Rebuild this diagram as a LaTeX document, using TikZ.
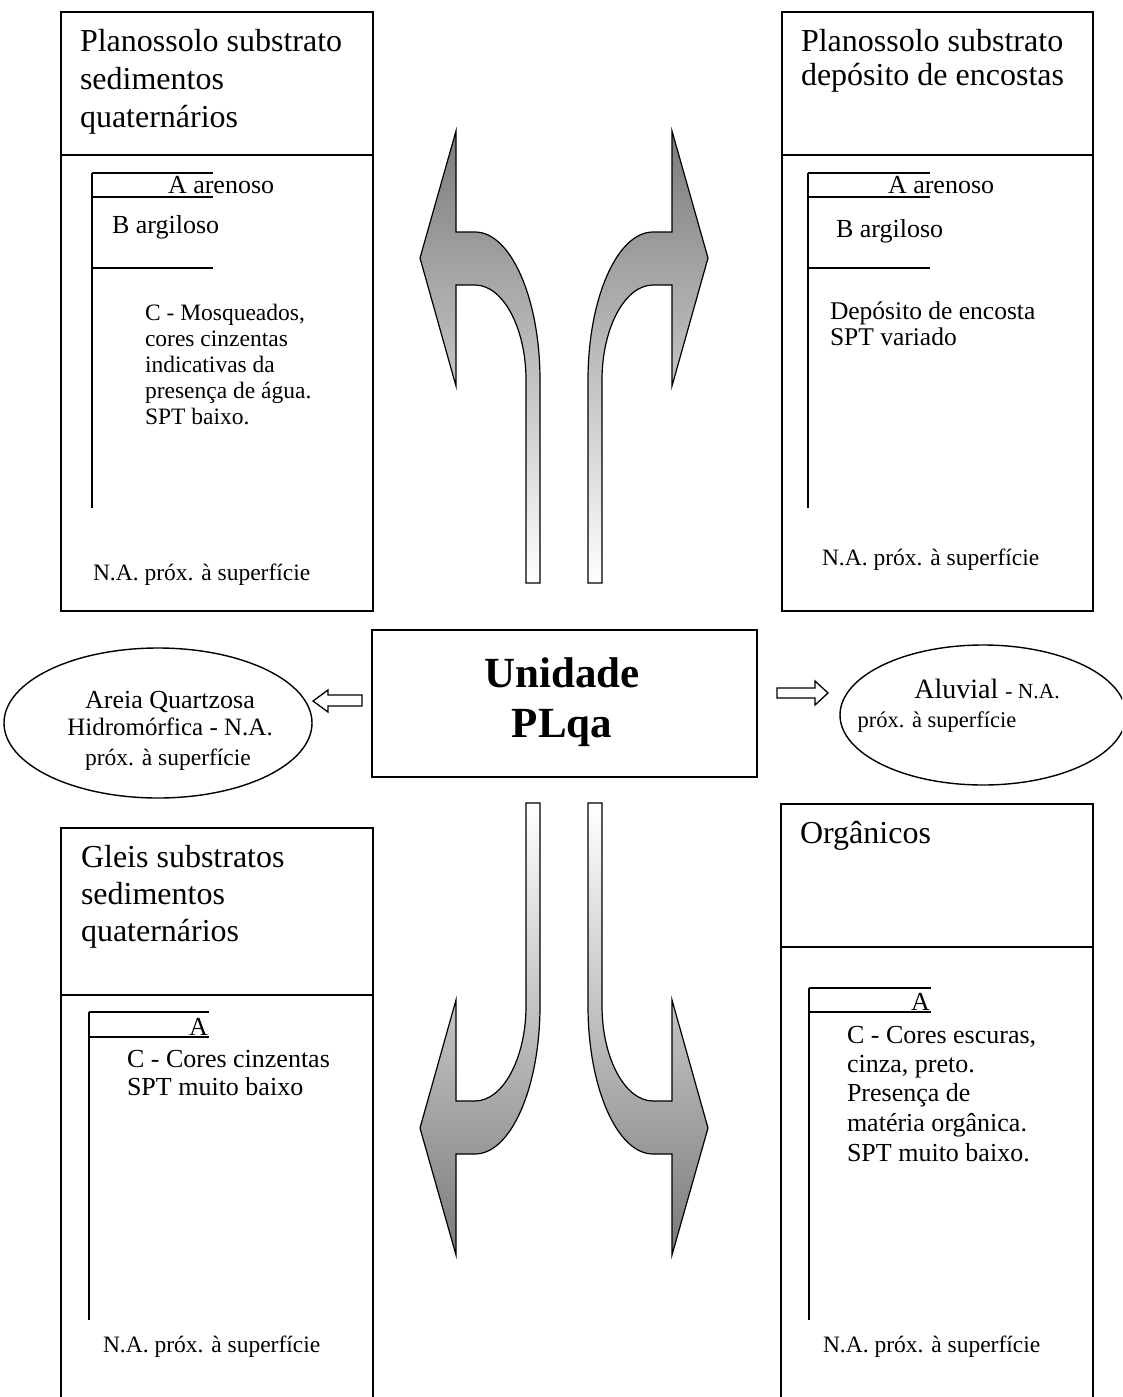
\documentclass[tikz,border=0pt]{standalone}
\usepackage{fontspec}
\setmainfont{Liberation Serif}
\usetikzlibrary{shapes.geometric}
\begin{document}
\begin{tikzpicture}[x=1pt,y=-1pt,
  panel/.style={draw,line width=1.8pt,anchor=north west,inner sep=0pt},
  layer/.style={line width=1.6pt},
  txt/.style={anchor=base west,inner sep=0pt,outer sep=0pt},
  hdr/.style={txt,font=\fontsize{32}{38}\selectfont},
  big/.style={txt,font=\fontsize{26}{30}\selectfont},
  small/.style={txt,font=\fontsize{23.5}{26}\selectfont},
  oval/.style={draw,ellipse,line width=1.4pt,inner sep=0pt},
  bigarrow/.style={draw=black,line width=1.2pt},
  hollow/.style={draw=black,fill=white,line width=1.3pt}]
\useasboundingbox (0,0) rectangle (1122,1397);
\clip (0,0) rectangle (1122,1397);

% ---------- top left panel ----------
\node[panel,minimum width=312pt,minimum height=599pt] (tl) at (60,11) {};
\draw[line width=1.8pt] (60,155) -- (372,155);
\node[hdr] (tl1) at (80,52) {Planossolo substrato};
\node[hdr] (tl2) at (80,89) {sedimentos};
\node[hdr] (tl3) at (80,127) {quaternários};
\draw[layer] (92,173) -- (92,508);
\draw[layer] (92,173) -- (213,173);
\draw[layer] (92,197) -- (213,197);
\draw[layer] (92,268) -- (213,268);
\node[big] (tla) at (168,193) {A arenoso};
\node[big] (tlb) at (112,233) {B argiloso};
\node[small] (tlc1) at (145,320) {C - Mosqueados,};
\node[small] (tlc2) at (145,346) {cores cinzentas};
\node[small] (tlc3) at (145,372) {indicativas da};
\node[small] (tlc4) at (145,398) {presença de água.};
\node[small] (tlc5) at (145,424) {SPT baixo.};
\node[small] (tln) at (93,580) {N.A. próx. à superfície};

% ---------- top right panel ----------
\node[panel,minimum width=311pt,minimum height=599pt] (tr) at (781,11) {};
\draw[line width=1.8pt] (781,155) -- (1092,155);
\node[hdr] (tr1) at (801,52) {Planossolo substrato};
\node[hdr] (tr2) at (801,85) {depósito de encostas};
\draw[layer] (808,173) -- (808,508);
\draw[layer] (808,173) -- (930,173);
\draw[layer] (808,197) -- (930,197);
\draw[layer] (808,268) -- (930,268);
\node[big] (tra) at (888,193) {A arenoso};
\node[big] (trb) at (836,237) {B argiloso};
\node[txt,font=\fontsize{25.5}{28}\selectfont] (trc1) at (830,319) {Depósito de encosta};
\node[txt,font=\fontsize{25.5}{28}\selectfont] (trc2) at (830,345) {SPT variado};
\node[small] (trn) at (822,565) {N.A. próx. à superfície};

% ---------- bottom left panel ----------
\node[panel,minimum width=312pt,minimum height=620pt] (bl) at (60,827) {};
\draw[line width=1.8pt] (60,995) -- (372,995);
\node[hdr] (bl1) at (81,867) {Gleis substratos};
\node[hdr] (bl2) at (81,904) {sedimentos};
\node[hdr] (bl3) at (81,941) {quaternários};
\draw[layer] (89,1012) -- (89,1320);
\draw[layer] (89,1012) -- (209,1012);
\draw[layer] (89,1037) -- (209,1037);
\node[big] (bla) at (189,1035) {A};
\node[big] (blc1) at (127,1067) {C - Cores cinzentas};
\node[big] (blc2) at (127,1095) {SPT muito baixo};
\node[small] (bln) at (103,1352) {N.A. próx. à superfície};

% ---------- bottom right panel ----------
\node[panel,minimum width=312pt,minimum height=620pt] (br) at (780,803) {};
\draw[line width=1.8pt] (780,947) -- (1092,947);
\node[hdr] (br1) at (800,843) {Orgânicos};
\draw[layer] (809,988) -- (809,1320);
\draw[layer] (809,988) -- (931,988);
\draw[layer] (809,1012) -- (931,1012);
\node[big] (bra) at (911,1010) {A};
\node[big] (brc1) at (847,1043) {C - Cores escuras,};
\node[big] (brc2) at (847,1072) {cinza, preto.};
\node[big] (brc3) at (847,1101) {Presença de};
\node[big] (brc4) at (847,1131) {matéria orgânica.};
\node[big] (brc5) at (847,1161) {SPT muito baixo.};
\node[small] (brn) at (823,1352) {N.A. próx. à superfície};

% ---------- central unit ----------
\node[draw,line width=1.8pt,minimum width=385pt,minimum height=147pt,inner sep=0pt]
  (unit) at (564.5,703.5) {};
\node[anchor=base,inner sep=0pt,font=\fontsize{43}{50}\selectfont\bfseries] (u1) at (562,687) {Unidade};
\node[anchor=base,inner sep=0pt,font=\fontsize{43}{50}\selectfont\bfseries] (u2) at (562,737) {PLqa};

% ---------- side soils ----------
\node[oval,minimum width=308pt,minimum height=150pt] (aq) at (158,723) {};
\node[anchor=base,inner sep=0pt,font=\fontsize{26}{30}\selectfont] (aq1) at (170,708) {Areia Quartzosa};
\node[anchor=base,inner sep=0pt,font=\fontsize{25}{30}\selectfont] (aq2) at (170,735) {Hidromórfica - N.A.};
\node[anchor=base,inner sep=0pt,font=\fontsize{23.5}{30}\selectfont] (aq3) at (168,765) {próx. à superfície};

\node[oval,minimum width=286pt,minimum height=140pt] (al) at (983,715) {};
\node[anchor=base,inner sep=0pt] (al1) at (987,698)
  {\fontsize{28}{32}\selectfont Aluvial \fontsize{21.5}{24}\selectfont - N.A.};
\node[anchor=base,inner sep=0pt,font=\fontsize{22.5}{30}\selectfont] (al2) at (937,727) {próx. à superfície};

% small hollow arrows from the unit
\draw[hollow] (362,695) -- (328,695) -- (328,690) -- (313,701) -- (328,712) -- (328,706) -- (362,706) -- cycle;
\draw[hollow] (777,688) -- (815,688) -- (815,681) -- (828,693) -- (815,705) -- (815,698) -- (777,698) -- cycle;

% ---------- curved arrows, upper pair ----------
\shade[bigarrow,top color=black!52,bottom color=white]
  (526,583) -- (526,380) .. controls (526,328) and (503,285) .. (475,285)
  -- (456,285) -- (456,386) -- (420,258) -- (456,131) -- (456,232) -- (475,232)
  .. controls (511,232) and (540,299) .. (540,380) -- (540,583) -- cycle;
\shade[bigarrow,top color=black!52,bottom color=white]
  (602,583) -- (602,380) .. controls (602,328) and (625,285) .. (653,285)
  -- (672,285) -- (672,386) -- (708,258) -- (672,131) -- (672,232) -- (653,232)
  .. controls (617,232) and (588,299) .. (588,380) -- (588,583) -- cycle;

% ---------- curved arrows, lower pair (mirror images) ----------
\shade[bigarrow,top color=white,bottom color=black!52]
  (526,803) -- (526,1006) .. controls (526,1058) and (503,1101) .. (475,1101)
  -- (456,1101) -- (456,1000) -- (420,1128) -- (456,1255) -- (456,1154) -- (475,1154)
  .. controls (511,1154) and (540,1087) .. (540,1006) -- (540,803) -- cycle;
\shade[bigarrow,top color=white,bottom color=black!52]
  (602,803) -- (602,1006) .. controls (602,1058) and (625,1101) .. (653,1101)
  -- (672,1101) -- (672,1000) -- (708,1128) -- (672,1255) -- (672,1154) -- (653,1154)
  .. controls (617,1154) and (588,1087) .. (588,1006) -- (588,803) -- cycle;
\end{tikzpicture}
\end{document}
